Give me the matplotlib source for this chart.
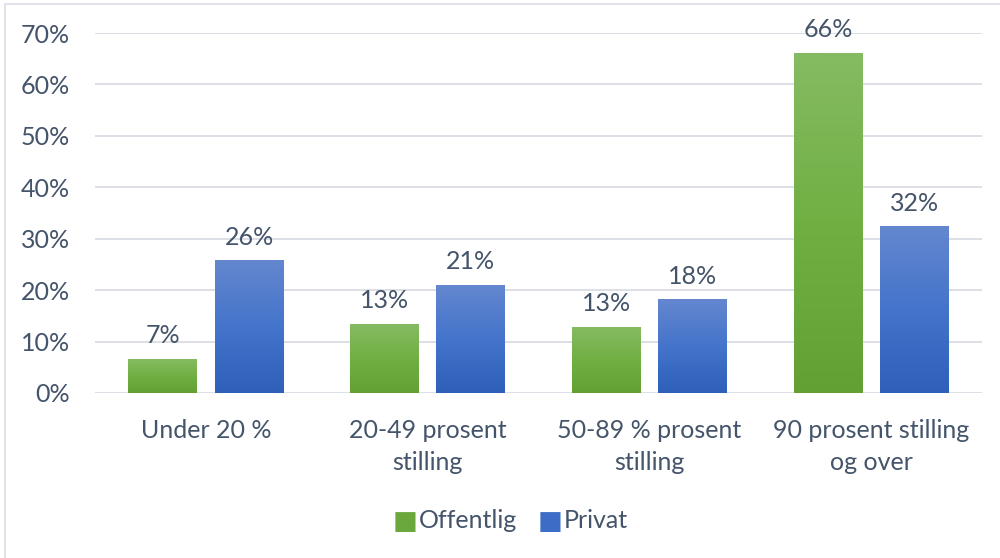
import numpy as np
import matplotlib.pyplot as plt
from matplotlib.patches import Rectangle
from matplotlib.colors import LinearSegmentedColormap

# data
categories = ['Under 20 %', '20-49 prosent\nstilling', '50-89 % prosent\nstilling', '90 prosent stilling\nog over']
offentlig = [6.6, 13.4, 12.8, 66.1]
privat = [25.7, 21.0, 18.1, 32.3]
yticks = [0, 10, 20, 30, 40, 50, 60, 70]

txt_color = '#44546a'
fs = 18
plt.rcParams['font.family'] = ['Lato', 'DejaVu Sans']

fig = plt.figure(figsize=(10, 5.58), dpi=100)
ax = fig.add_axes([0.095, 1 - 393 / 558, 0.887, (393 - 33) / 558])

green_cmap = LinearSegmentedColormap.from_list('g', ['#62a034', '#70b043', '#85bb62'])
blue_cmap = LinearSegmentedColormap.from_list('b', ['#2e60ba', '#4474cb', '#6487cf'])
grad = np.linspace(0, 1, 256).reshape(-1, 1)

x = np.arange(len(categories))
w = 0.31

def gradient_bar(xc, h, cmap):
    ax.imshow(grad, cmap=cmap, origin='lower', aspect='auto',
              extent=[xc - w / 2, xc + w / 2, 0, h], zorder=3)

for i in range(len(categories)):
    xo = x[i] - 0.195
    xp = x[i] + 0.195
    gradient_bar(xo, offentlig[i], green_cmap)
    gradient_bar(xp, privat[i], blue_cmap)
    ax.text(xo, offentlig[i] + 2.3, f'{round(offentlig[i])}%', ha='center', va='bottom',
            fontsize=fs, color=txt_color)
    ax.text(xp, privat[i] + 2.3, f'{round(privat[i])}%', ha='center', va='bottom',
            fontsize=fs, color=txt_color)

ax.set_xlim(-0.5, len(categories) - 0.5)
ax.set_ylim(0, 70)
ax.set_yticks(yticks)
ax.set_yticklabels([f'{t}%' for t in yticks], fontsize=fs, color=txt_color)
ax.set_xticks(x)
ax.set_xticklabels(categories, fontsize=fs, color=txt_color, linespacing=1.45)
ax.tick_params(length=0, axis='y', pad=18)
ax.tick_params(length=0, axis='x', pad=19)
ax.grid(axis='y', color='#d9dde4', linewidth=1.3, zorder=0)
ax.set_axisbelow(True)
for s in ax.spines.values():
    s.set_visible(False)

# legend
ly = 1 - 521 / 558
fig.text(0.4055, ly, '■', fontsize=19, color='#6aa83e', ha='center', va='center')
fig.text(0.419, ly, 'Offentlig', fontsize=fs, color=txt_color, ha='left', va='center')
fig.text(0.5505, ly, '■', fontsize=19, color='#3b6cc6', ha='center', va='center')
fig.text(0.564, ly, 'Privat', fontsize=fs, color=txt_color, ha='left', va='center')

# outer frame
fig.patches.append(Rectangle((0.005, -0.1), 1.2, 1.1 - 4 / 558, transform=fig.transFigure,
                             fill=False, edgecolor='#d9dde4', linewidth=1.2))

plt.savefig('out.png', dpi=100)
